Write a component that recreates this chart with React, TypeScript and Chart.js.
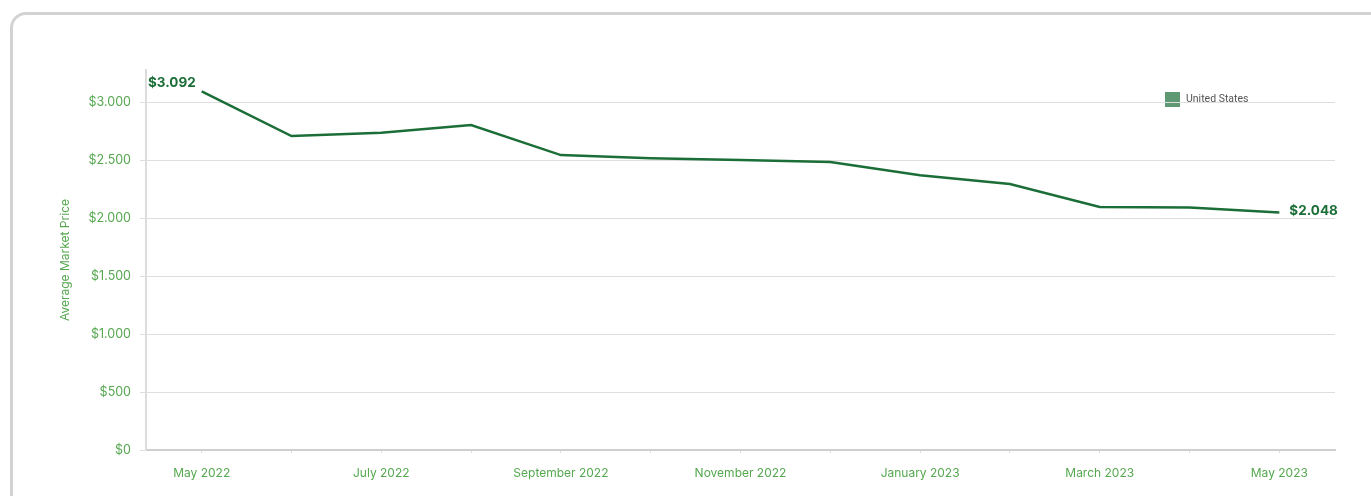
import React, { useEffect, useRef } from "react";
import { Chart, registerables } from "chart.js";

Chart.register(...registerables);

const months = [
  "May 2022", "June 2022", "July 2022", "August 2022", "September 2022", "October 2022",
  "November 2022", "December 2022", "January 2023", "February 2023", "March 2023", "April 2023", "May 2023",
];
const prices = [3092, 2707, 2735, 2802, 2543, 2517, 2500, 2483, 2370, 2293, 2095, 2092, 2048];
const yTicks = [0, 500, 1000, 1500, 2000, 2500, 3000];
const seriesName = "United States";
const yTitle = "Average Market Price";

const LINE = "#1b6e37";
const TICK = "#55a84f";
const GRID = "#dedede";

const fmt = (v: number) => {
  if (v >= 1000) {
    const th = Math.floor(v / 1000);
    const rest = String(Math.round(v % 1000)).padStart(3, "0");
    return `$${th}.${rest}`;
  }
  return `$${v}`;
};

export default function App() {
  const ref = useRef<HTMLCanvasElement | null>(null);
  useEffect(() => {
    if (!ref.current) return;
    const decor = {
      id: "decor",
      beforeDraw(chart: any) {
        const ctx = chart.ctx;
        ctx.save();
        ctx.fillStyle = "rgba(27,110,55,0.7)";
        ctx.fillRect(1165, 92, 15, 15);
        ctx.fillStyle = "#555";
        ctx.font = "10.5px Roboto";
        ctx.textBaseline = "middle";
        ctx.textAlign = "left";
        ctx.fillText(seriesName, 1186, 99.5);
        ctx.restore();
      },
      afterDatasetsDraw(chart: any) {
        const ctx = chart.ctx;
        const meta = chart.getDatasetMeta(0);
        const first = meta.data[0];
        const last = meta.data[meta.data.length - 1];
        ctx.save();
        ctx.fillStyle = LINE;
        ctx.font = "bold 13.5px Inter";
        ctx.textBaseline = "middle";
        ctx.textAlign = "right";
        ctx.fillText(fmt(prices[0]), first.x - 6, first.y - 9);
        ctx.textAlign = "left";
        ctx.fillText(fmt(prices[prices.length - 1]), last.x + 10, last.y - 1.5);
        ctx.restore();
      },
    };
    const chart = new Chart(ref.current, {
      type: "line",
      data: {
        datasets: [
          {
            label: seriesName,
            data: prices.map((p, i) => ({ x: i, y: p })),
            borderColor: LINE,
            backgroundColor: LINE,
            borderWidth: 2.5,
            pointRadius: 0,
            tension: 0,
          },
        ],
      },
      options: {
        animation: false,
        responsive: false,
        layout: { padding: { left: 54, top: 70, right: 36, bottom: 0 } },
        plugins: { legend: { display: false }, tooltip: { enabled: false } },
        scales: {
          x: {
            type: "linear",
            min: -0.62,
            max: 12.62,
            afterBuildTicks: (s: any) => {
              s.ticks = months.map((_, i) => ({ value: i }));
            },
            afterFit: (s: any) => {
              s.height = 46;
            },
            grid: { drawOnChartArea: false, tickLength: 3, color: GRID },
            border: { color: "#cfcfcf", width: 2 },
            ticks: {
              autoSkip: false,
              maxRotation: 0,
              padding: 13,
              color: TICK,
              font: { family: "Inter", size: 12 },
              callback: (v: any) => {
                const i = Math.round(Number(v));
                return i % 2 === 0 ? months[i] : "";
              },
            },
          },
          y: {
            min: 0,
            max: 3277,
            afterBuildTicks: (s: any) => {
              s.ticks = yTicks.map((v) => ({ value: v }));
            },
            afterFit: (s: any) => {
              s.width = 92;
            },
            grid: { color: GRID, tickLength: 6 },
            border: { color: "#dcdcdc", width: 2 },
            title: {
              display: true,
              text: yTitle,
              color: TICK,
              font: { family: "Inter", size: 12 },
            },
            ticks: {
              padding: 9,
              color: TICK,
              font: { family: "Inter", size: 12.5 },
              callback: (v: any) => fmt(Number(v)),
            },
          },
        },
      },
      plugins: [decor],
    } as any);
    return () => chart.destroy();
  }, []);

  return (
    <div style={{ position: "fixed", left: 0, top: 0, width: 1371, height: 496, overflow: "hidden", background: "#fff" }}>
      <div
        style={{
          position: "absolute",
          left: 10,
          top: 12,
          width: 1420,
          height: 560,
          border: "3px solid #d3d3d3",
          borderRadius: 16,
          boxSizing: "border-box",
        }}
      />
      <canvas ref={ref} width={1371} height={496} style={{ position: "absolute", left: 0, top: 0 }} />
    </div>
  );
}
